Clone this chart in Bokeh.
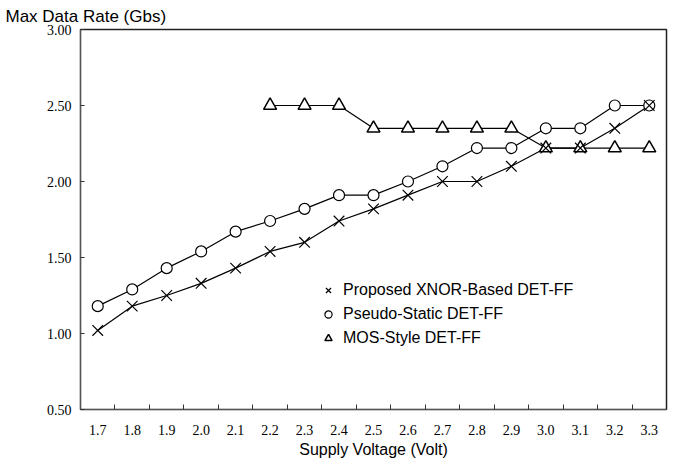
from bokeh.plotting import figure
from bokeh.models import (FixedTicker, Range1d, Legend, LegendItem, Title,
                          CustomJSTickFormatter, ColumnDataSource)
from bokeh.embed import file_html
from bokeh.resources import INLINE

voltage = [1.7, 1.8, 1.9, 2.0, 2.1, 2.2, 2.3, 2.4, 2.5, 2.6, 2.7, 2.8, 2.9, 3.0, 3.1, 3.2, 3.3]
xnor_rate = [1.02, 1.18, 1.25, 1.33, 1.43, 1.54, 1.60, 1.74, 1.82, 1.91, 2.00, 2.00, 2.10, 2.22, 2.22, 2.35, 2.50]
pseudo_rate = [1.18, 1.29, 1.43, 1.54, 1.67, 1.74, 1.82, 1.91, 1.91, 2.00, 2.10, 2.22, 2.22, 2.35, 2.35, 2.50, 2.50]
mos_voltage = [2.2, 2.3, 2.4, 2.5, 2.6, 2.7, 2.8, 2.9, 3.0, 3.1, 3.2, 3.3]
mos_rate = [2.50, 2.50, 2.50, 2.35, 2.35, 2.35, 2.35, 2.35, 2.22, 2.22, 2.22, 2.22]
y_ticks = [0.5, 1.0, 1.5, 2.0, 2.5, 3.0]
series_names = ["Proposed XNOR-Based DET-FF", "Pseudo-Static DET-FF", "MOS-Style DET-FF"]
x_title = "Supply Voltage (Volt)"
y_title = "Max Data Rate (Gbs)"

p = figure(width=676, height=459, output_backend="svg", toolbar_location=None,
           x_range=Range1d(1.65, 3.35), y_range=Range1d(0.5, 3.0),
           min_border_left=80, min_border_right=10, min_border_top=22, min_border_bottom=40)
p.background_fill_color = "white"
p.border_fill_color = "white"
p.outline_line_color = "#222222"
p.outline_line_width = 1.5
p.xgrid.visible = False
p.ygrid.visible = False

p.title.text = y_title
p.title.align = "left"
p.title.offset = -75
p.title.standoff = 8
p.title.text_font = "Liberation Sans"
p.title.text_font_style = "normal"
p.title.text_font_size = "17px"
p.title.text_color = "black"

# x axis: labels at category centres, small ticks at boundaries
bounds = [round(v + 0.05, 2) for v in voltage[:-1]]
p.xaxis.ticker = FixedTicker(ticks=voltage, minor_ticks=bounds)
p.xaxis.formatter = CustomJSTickFormatter(code="return tick.toFixed(1);")
p.xaxis.major_tick_line_color = None
p.xaxis.minor_tick_in = 5
p.xaxis.minor_tick_out = 0
p.xaxis.minor_tick_line_color = "#333333"
p.xaxis.axis_line_color = "#555555"
p.xaxis.major_label_text_font = "Liberation Serif"
p.xaxis.major_label_text_font_size = "14px"
p.xaxis.major_label_text_color = "black"
p.xaxis.major_label_standoff = 9

xt = Title(text=x_title, align="center", text_font="Liberation Sans",
           text_font_style="normal", text_font_size="16px", text_color="black",
           standoff=3)
p.add_layout(xt, "below")

p.yaxis.ticker = FixedTicker(ticks=y_ticks, minor_ticks=[])
p.yaxis.formatter = CustomJSTickFormatter(code="return tick.toFixed(2);")
p.yaxis.major_tick_in = 4
p.yaxis.major_tick_out = 0
p.yaxis.major_tick_line_color = "#333333"
p.yaxis.axis_line_color = "#555555"
p.yaxis.major_label_text_font = "Liberation Serif"
p.yaxis.major_label_text_font_size = "14px"
p.yaxis.major_label_text_color = "black"
p.yaxis.major_label_standoff = 9

src_x = ColumnDataSource(dict(v=voltage, r=xnor_rate))
src_o = ColumnDataSource(dict(v=voltage, r=pseudo_rate))
src_t = ColumnDataSource(dict(v=mos_voltage, r=mos_rate))

p.line("v", "r", source=src_t, line_color="black", line_width=1.2)
p.line("v", "r", source=src_o, line_color="black", line_width=1.2)
p.line("v", "r", source=src_x, line_color="black", line_width=1.2)
rt = p.scatter("v", "r", source=src_t, marker="triangle", size=13, fill_color="white",
               line_color="black", line_width=1.5)
ro = p.scatter("v", "r", source=src_o, marker="circle", size=11, fill_color="white",
               line_color="black", line_width=1.2)
rx = p.scatter("v", "r", source=src_x, marker="x", size=15, line_color="black", line_width=1.2)

legend = Legend(items=[LegendItem(label=series_names[0], renderers=[rx]),
                       LegendItem(label=series_names[1], renderers=[ro]),
                       LegendItem(label=series_names[2], renderers=[rt])],
                location=(239, 62), border_line_color=None, background_fill_alpha=0,
                label_text_font="Liberation Sans", label_text_font_size="16px",
                label_text_color="black", glyph_width=18, glyph_height=18,
                spacing=6, label_standoff=6, padding=4)
p.add_layout(legend, "center")

open("out.html", "w").write(file_html(p, INLINE))
